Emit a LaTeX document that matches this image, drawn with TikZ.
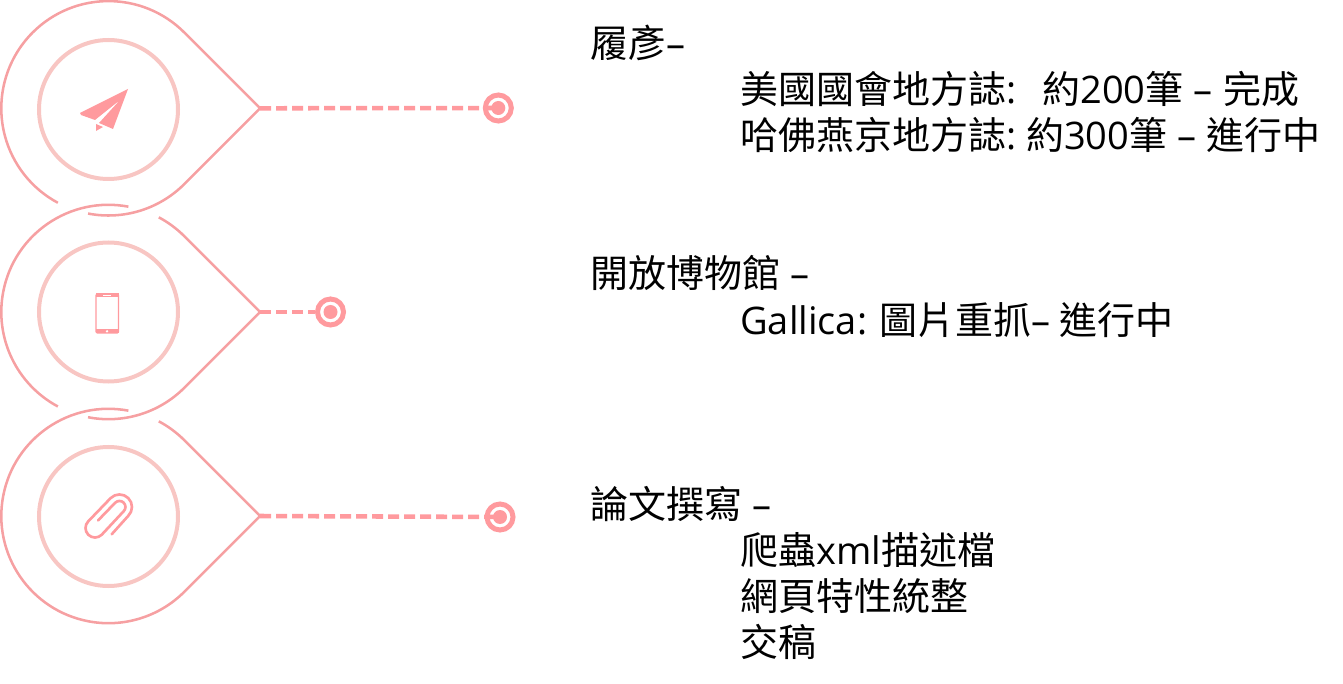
\documentclass[tikz,border=0pt]{standalone}
\usepackage{fontspec}
\setmainfont{Noto Sans CJK TC}
\newfontfamily\latinfont{Open Sans}
\definecolor{pinkline}{HTML}{F6A0A2}
\definecolor{pinkring}{HTML}{F8C6C3}
\definecolor{pinkfill}{HTML}{FF9A9E}
\tikzset{
  drop/.style={draw=pinkline,line width=1.9pt},
  ringc/.style={circle,draw=pinkring,line width=3pt,minimum size=104.25pt,inner sep=0pt},
  dashline/.style={draw=pinkfill,line width=3.4pt,dash pattern=on 8.25pt off 3.75pt},
  dotring/.style={circle,draw=pinkfill,line width=3.75pt,fill=white,minimum size=19.5pt,inner sep=0pt},
  dotcore/.style={circle,fill=pinkfill,minimum size=10.5pt,inner sep=0pt},
  lab/.style={anchor=base west,inner sep=0pt,font=\fontsize{28.5pt}{34pt}\selectfont,text=black},
  iconf/.style={fill=pinkfill,draw=none},
  icons/.style={draw=pinkfill,line width=2pt,fill=none,line cap=round}
}
\begin{document}
\begin{tikzpicture}[x=0.75pt,y=-0.75pt]
\useasboundingbox (0,0) rectangle (1343,684);
\coordinate (t1) at (260.1,108.3);
\coordinate (t2) at (260.1,312);
\coordinate (t3) at (260.1,516);
% teardrop 1
\draw[drop] ([shift={(108.5,108.3)}]-259:107.2) arc[start angle=-259,end angle=-315,radius=107.2] -- (t1) -- ([shift={(108.5,108.3)}]-45:107.2) arc[start angle=-45,end angle=-241.8,radius=107.2];
% teardrop 2
\draw[drop] ([shift={(108.5,312)}]-259:107.2) arc[start angle=-259,end angle=-315,radius=107.2] -- (t2) -- ([shift={(108.5,312)}]-45:107.2) arc[start angle=-45,end angle=-62,radius=107.2];
\draw[drop] ([shift={(108.5,312)}]-79.3:107.2) arc[start angle=-79.3,end angle=-241.8,radius=107.2];
% teardrop 3
\draw[drop] ([shift={(108.5,516)}]-79.3:107.2) arc[start angle=-79.3,end angle=-315,radius=107.2] -- (t3) -- ([shift={(108.5,516)}]-45:107.2) arc[start angle=-45,end angle=-62,radius=107.2];
% inner rings
\node[ringc] (r1) at (108.5,109.5) {};
\node[ringc] (r2) at (108.5,312) {};
\node[ringc] (r3) at (108.5,516.5) {};
% end dots
\node[dotring] (d1) at (498.3,108) {};
\node[dotring] (d2) at (330.5,312) {};
\node[dotring] (d3) at (500,517) {};
\draw[dashline] (t1) -- (d1.center);
\draw[dashline] (t2) -- (d2.west);
\draw[dashline] (t3) -- (d3.center);
\node[dotcore] at (d1) {};
\node[dotcore] at (d2) {};
\node[dotcore] at (d3) {};
% plane icon
\fill[iconf] (128,89) -- (80,113) -- (81,115) -- (95,120) -- (120,100) -- (99,123) -- (113,129) -- cycle;
\fill[iconf] (96,124) -- (96,131) -- (103,127) -- cycle;
% phone icon
\draw[draw=pinkfill,line width=1.1pt,rounded corners=1pt] (96,294) rectangle (118.5,333);
\fill[iconf] (95.5,293.5) rectangle (119,297);
\fill[iconf] (95.5,329) rectangle (119,333.5);
\fill[white] (103,294.6) rectangle (111,295.6);
\fill[white] (107,331.3) circle[radius=1.3];
% clip icon
\draw[icons,line join=round] (111.7,534.3) -- (128.3,515.8) arc[start angle=45,end angle=-135,radius=12.5] -- (88.3,521.3) arc[start angle=-135,end angle=-315,radius=9.5] -- (123.7,511.2) arc[start angle=45,end angle=-135,radius=6] -- (98,520.5);
% texts
\node[lab] (a1) at (590,58) {履彥{\latinfont –}};
\node[lab] (a2) at (740,104) {美國國會地方誌{\latinfont :}\hspace{19.5pt}約{\latinfont 200}筆{\latinfont\ –\ }\hspace{1pt}完成};
\node[lab] (a3) at (740,150) {哈佛燕京地方誌{\latinfont :\ }約{\latinfont 300}筆{\latinfont\ –\ }進行中};
\node[lab] (b1) at (590,288) {開放博物館{\latinfont\ –}};
\node[lab] (b2) at (740,335) {{\latinfont Gallica:\ }\hspace{1.5pt}圖片重抓{\latinfont –\ }進行中};
\node[lab] (c1) at (590,518) {論文撰寫{\latinfont\ –}};
\node[lab] (c2) at (740,564) {爬蟲{\latinfont xml}描述檔};
\node[lab] (c3) at (740,610) {網頁特性統整};
\node[lab] (c4) at (740,656) {交稿};
\end{tikzpicture}
\end{document}
